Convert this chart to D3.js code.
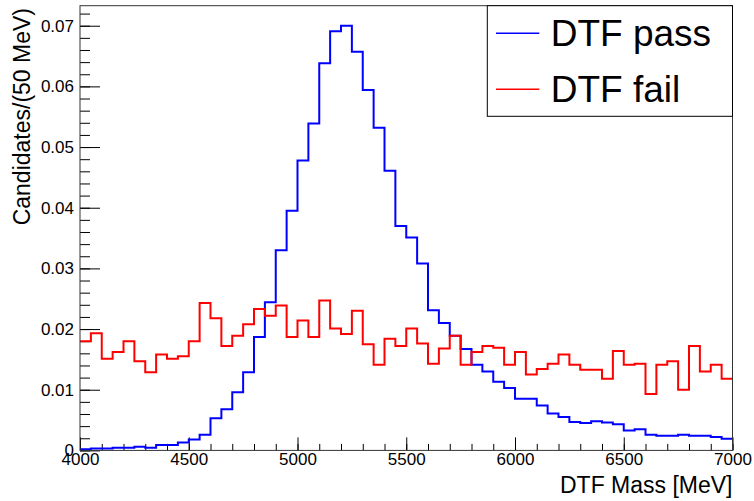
<!DOCTYPE html>
<html>
<head>
<meta charset="utf-8">
<script src="https://cdn.jsdelivr.net/npm/d3@7/dist/d3.min.js"></script>
<style>
  body { margin: 0; background: #fff; }
  svg { display: block; font-family: "Liberation Sans", Arial, Helvetica, sans-serif; }
</style>
</head>
<body>
<svg id="chart" width="754" height="501"></svg>
<script>
// bin low edges, 50 MeV wide
const binEdges = d3.range(4000, 7000, 50);

const dtfPass = [
    0.0002, 0.0003, 0.0003, 0.00045, 0.00045, 0.0006, 0.00045, 0.0009, 0.0009, 0.0013,
    0.0018, 0.0026, 0.0053, 0.0068, 0.0096, 0.0129, 0.0187, 0.0244, 0.0330, 0.0395,
    0.0478, 0.0539, 0.0638, 0.0691, 0.0700, 0.0657, 0.0594, 0.0532, 0.0461, 0.0370,
    0.0351, 0.0308, 0.0231, 0.0210, 0.0189, 0.0167, 0.0141, 0.0130, 0.0113, 0.0103,
    0.0085, 0.0085, 0.0074, 0.0061, 0.0055, 0.0047, 0.0045, 0.0048, 0.0046, 0.0043,
    0.0033, 0.0035, 0.0026, 0.0024, 0.0024, 0.0026, 0.0024, 0.0024, 0.0022, 0.0019
];

const dtfFail = [
    0.0180, 0.0193, 0.0151, 0.0162, 0.0180, 0.0147, 0.0129, 0.0158, 0.0151, 0.0155,
    0.0180, 0.0243, 0.0218, 0.0172, 0.0189, 0.0208, 0.0233, 0.0222, 0.0239, 0.0187,
    0.0214, 0.0187, 0.0247, 0.0201, 0.0192, 0.0230, 0.0175, 0.0141, 0.0184, 0.0172,
    0.0201, 0.0176, 0.0143, 0.0168, 0.0189, 0.0141, 0.0162, 0.0172, 0.0169, 0.0141,
    0.0162, 0.0125, 0.0134, 0.0143, 0.0158, 0.0141, 0.0133, 0.0133, 0.0118, 0.0164,
    0.0141, 0.0143, 0.0093, 0.0141, 0.0147, 0.0100, 0.0172, 0.0130, 0.0141, 0.0118
];

const xTicks = [4000, 4500, 5000, 5500, 6000, 6500, 7000];
const yTicks = [0, 0.01, 0.02, 0.03, 0.04, 0.05, 0.06, 0.07];

const series = [
    { name: 'DTF pass', values: dtfPass, color: '#0000ff' },
    { name: 'DTF fail', values: dtfFail, color: '#ff0000' }
];

const svg = d3.select('#chart');

const frame = { left: 80, right: 732.5, top: 5.7, bottom: 450.4 };

const x = d3.scaleLinear().domain([4000, 7000]).range([frame.left, frame.right]);
const y = d3.scaleLinear().domain([0, 0.0733]).range([frame.bottom, frame.top]);

// minor ticks first, no labels
svg.append('g')
    .attr('transform', `translate(0,${frame.bottom})`)
    .call(d3.axisBottom(x).tickValues(d3.range(4000, 7001, 100)).tickSize(-6.5).tickFormat(''))
    .call((g) => g.select('.domain').remove());

svg.append('g')
    .attr('transform', `translate(${frame.left},0)`)
    .call(d3.axisLeft(y).tickValues(d3.range(0, 0.0733, 0.002)).tickSize(-10).tickFormat(''))
    .call((g) => g.select('.domain').remove());

// major ticks with labels
const xAxis = svg.append('g')
    .attr('transform', `translate(0,${frame.bottom})`)
    .call(d3.axisBottom(x).tickValues(xTicks).tickSize(-13).tickPadding(3).tickFormat(d3.format('d')))
    .call((g) => g.select('.domain').remove());
xAxis.selectAll('text')
    .attr('font-size', '17px')
    .attr('fill', '#000');

const yAxis = svg.append('g')
    .attr('transform', `translate(${frame.left},0)`)
    .call(d3.axisLeft(y).tickValues(yTicks).tickSize(-20).tickPadding(6)
        .tickFormat((d) => (d === 0 ? '0' : d3.format('.2f')(d))))
    .call((g) => g.select('.domain').remove());
yAxis.selectAll('text')
    .attr('font-size', '17px')
    .attr('fill', '#000');

svg.selectAll('.tick line').attr('stroke', '#000').attr('stroke-width', 1);

// histograms as steps
const step = d3.line()
    .x((d) => x(d[0]))
    .y((d) => y(d[1]))
    .curve(d3.curveStepAfter);

series.forEach((s) => {
    const pts = binEdges.map((e, i) => [e, s.values[i]]);
    pts.push([7000, s.values[s.values.length - 1]]);
    svg.append('path')
        .attr('d', step(pts))
        .attr('fill', 'none')
        .attr('stroke', s.color)
        .attr('stroke-width', 2);
});

// frame
svg.append('rect')
    .attr('x', frame.left)
    .attr('y', frame.top)
    .attr('width', frame.right - frame.left)
    .attr('height', frame.bottom - frame.top)
    .attr('fill', 'none')
    .attr('stroke', '#333')
    .attr('stroke-width', 1);

// axis titles
svg.append('text')
    .attr('x', frame.right)
    .attr('y', 493)
    .attr('text-anchor', 'end')
    .attr('font-size', '23px')
    .text('DTF Mass [MeV]');

svg.append('text')
    .attr('transform', 'translate(30,8) rotate(-90)')
    .attr('text-anchor', 'end')
    .attr('font-size', '23px')
    .text('Candidates/(50 MeV)');

// legend
const legend = svg.append('g');
legend.append('rect')
    .attr('x', 487.3)
    .attr('y', frame.top)
    .attr('width', frame.right - 487.3)
    .attr('height', 110.6)
    .attr('fill', '#fff')
    .attr('stroke', '#000')
    .attr('stroke-width', 1);

series.forEach((s, i) => {
    const cy = 33.3 + i * 56;
    legend.append('line')
        .attr('x1', 496).attr('x2', 539.3)
        .attr('y1', cy).attr('y2', cy)
        .attr('stroke', s.color)
        .attr('stroke-width', 1.5);
    legend.append('text')
        .attr('x', 550.7)
        .attr('y', cy + 12.4)
        .attr('font-size', '37px')
        .text(s.name);
});
</script>
</body>
</html>
